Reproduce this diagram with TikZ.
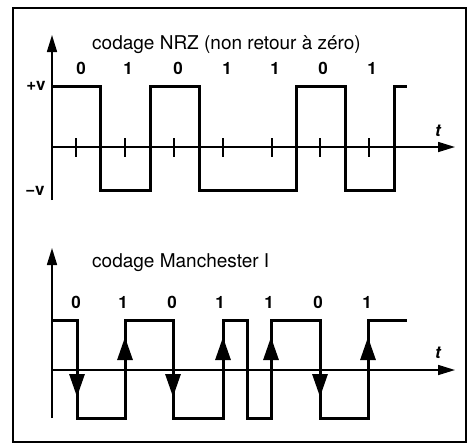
\documentclass[tikz,border=0pt]{standalone}
\usepackage{fontspec}
\setmainfont{TeX Gyre Heros}
\usetikzlibrary{arrows.meta}
\begin{document}
\begin{tikzpicture}[x=1pt,y=-1pt,
 axis/.style={line width=1.6pt, -{Triangle[length=17pt,width=10pt]}},
 sig/.style={line width=3pt, line join=miter},
 tickmark/.style={line width=1.8pt},
 lbl/.style={font=\fontsize{19}{19}\selectfont, inner sep=0pt},
 bit/.style={font=\bfseries\fontsize{17}{17}\selectfont, inner sep=0pt},
 tlab/.style={font=\bfseries\itshape\fontsize{17}{17}\selectfont, inner sep=0pt},
 edgearrow/.style={line width=3pt, -{Triangle[length=23pt,width=15pt]}}]
\useasboundingbox (0,0) rectangle (476,445);
\draw[line width=1.6pt] (13,8) rectangle (466,442);
% ---------- NRZ ----------
\coordinate (ya) at (52,200);
\coordinate (yt) at (52,35);
\coordinate (oa) at (52,147);
\coordinate (xa) at (455,147);
\draw[axis] (ya) -- (yt);
\draw[axis] (oa) -- (xa);
\foreach \x in {76,125,174,223,272,320,369}
  \draw[tickmark] (\x,138) -- (\x,157);
\draw[sig] (52,86) -- (100,86) -- (100,190) -- (150,190) -- (150,86) -- (199,86)
  -- (199,190) -- (296,190) -- (296,86) -- (345,86) -- (345,190) -- (394,190)
  -- (394,86) -- (407,86);
\node[lbl, anchor=west] (tnrz) at (92,45) {codage NRZ (non retour à zéro)};
\foreach \x/\b [count=\i] in {81/0,128/1,178/0,227/1,275/1,323/0,372/1}
  \node[bit] (na\i) at (\x,68) {\b};
\node[bit] (pv) at (36,86) {+v};
\node[bit] (mv) at (35,191) {−v};
\node[tlab] (ta) at (438,131) {t};
% ---------- Manchester ----------
\coordinate (yb) at (52,418);
\coordinate (ytb) at (52,248);
\coordinate (ob) at (52,370);
\coordinate (xb) at (455,370);
\draw[axis] (yb) -- (ytb);
\draw[axis] (ob) -- (xb);
\draw[sig] (52,320) -- (77,320) -- (77,418) -- (125,418) -- (125,320) -- (173,320)
  -- (173,418) -- (223,418) -- (223,320) -- (247,320) -- (247,418) -- (271,418)
  -- (271,320) -- (320,320) -- (320,418) -- (368,418) -- (368,320) -- (407,320);
\foreach \x in {77,173,320}
  \draw[edgearrow] (\x,322) -- (\x,397);
\foreach \x in {125,223,271,368}
  \draw[edgearrow] (\x,416) -- (\x,337);
\node[lbl, anchor=west] (tman) at (92,263) {codage Manchester I};
\foreach \x/\b [count=\i] in {76/0,123/1,172/0,220/1,269/1,318/0,367/1}
  \node[bit] (nb\i) at (\x,302) {\b};
\node[tlab] (tb) at (438,353) {t};
\end{tikzpicture}
\end{document}
